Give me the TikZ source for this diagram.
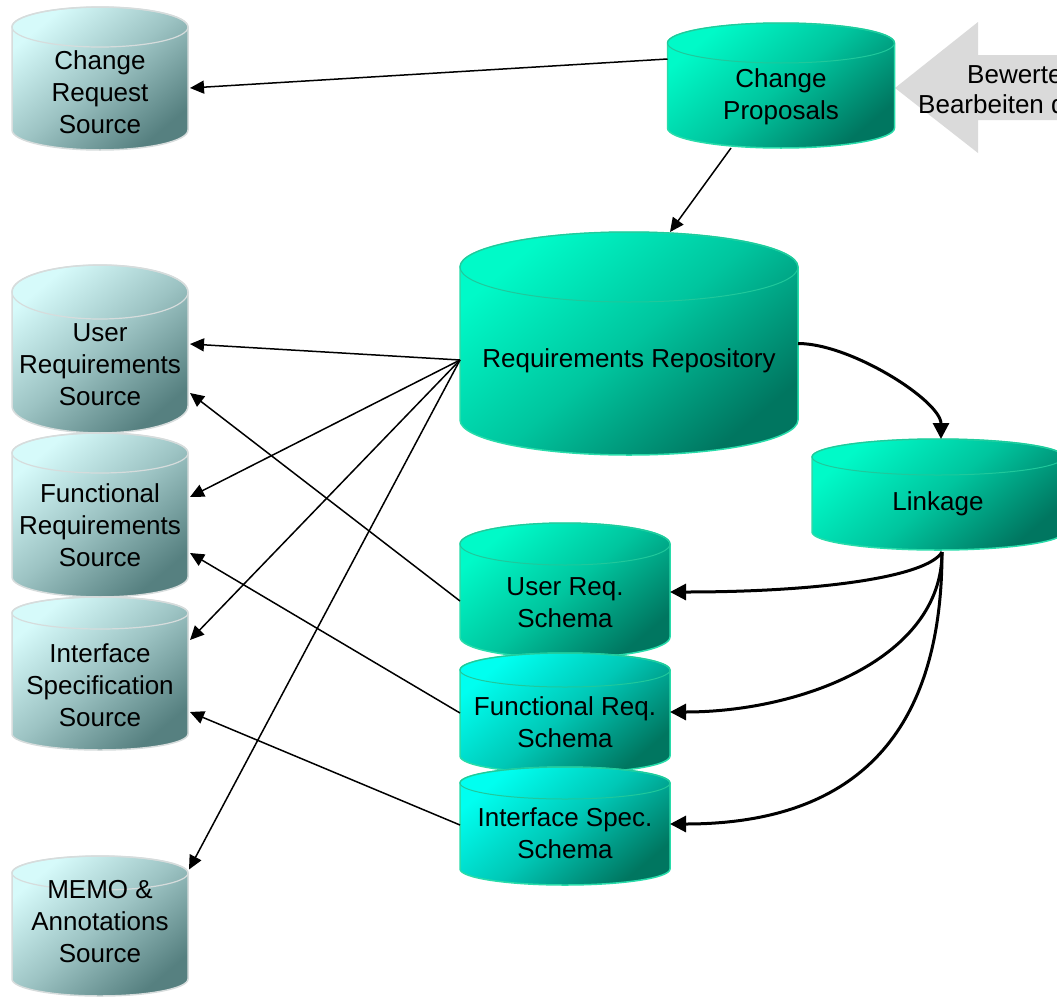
\documentclass[tikz,border=0pt]{standalone}
\usepackage{fontspec}
\setmainfont{Liberation Sans}
\usetikzlibrary{arrows.meta,calc}

% Cylinder drawn from its outline: #1 name, #2 centre x, #3 top y (downwards),
% #4 width, #5 height, #6 ellipse y radius, #7 colour kind, #8 text, #9 text y
\newcommand\dbcyl[9]{%
  \pgfmathsetmacro\cylrx{#4/2}%
  \pgfmathsetmacro\cylyt{-(#3+#6)}%
  \pgfmathsetmacro\cylyb{-(#3+#5-#6)}%
  \pgfmathsetmacro\cylxl{#2-#4/2}%
  \pgfmathsetmacro\cylxr{#2+#4/2}%
  \path[#7 body] (\cylxl,\cylyt) -- (\cylxl,\cylyb)
    arc[start angle=180,end angle=360,x radius=\cylrx,y radius=#6]
    -- (\cylxr,\cylyt)
    arc[start angle=0,end angle=180,x radius=\cylrx,y radius=#6] -- cycle;
  \draw[#7 rim] (#2,\cylyt) ellipse[x radius=\cylrx,y radius=#6];
  \node[cylbox,minimum width=#4pt,minimum height=#5pt] (#1) at (#2,{-(#3+#5/2)}) {};
  \node[cyltext] (#1-text) at (#2,-#9) {#8};
}

\definecolor{srclight}{RGB}{214,250,250}
\definecolor{srcdark}{RGB}{86,128,128}
\definecolor{srcedge}{RGB}{214,220,220}
\definecolor{teallight}{RGB}{0,250,200}
\definecolor{tealdark}{RGB}{0,118,96}
\definecolor{tealedge}{RGB}{40,220,170}
\definecolor{cyanlight}{RGB}{0,255,240}
\definecolor{arrowgrey}{RGB}{218,218,218}

\tikzset{
  src body/.style={draw=srcedge,line width=1.5pt,
    top color=srclight,bottom color=srcdark,middle color=srclight!55!srcdark,shading angle=40},
  src rim/.style={draw=srcedge,line width=1.2pt},
  teal body/.style={draw=tealedge,line width=1.5pt,
    top color=teallight,bottom color=tealdark,middle color=teallight!60!tealdark,shading angle=40},
  teal rim/.style={draw=tealedge!80!tealdark,line width=1pt},
  cyan body/.style={draw=tealedge,line width=1.5pt,
    top color=cyanlight,bottom color=tealdark,middle color=cyanlight!60!tealdark,shading angle=40},
  cyan rim/.style={draw=tealedge!80!tealdark,line width=1pt},
  cylbox/.style={inner sep=0pt,outer sep=0pt},
  cyltext/.style={align=center,inner sep=0pt,font=\fontsize{26}{32}\selectfont},
  link/.style={line width=1.5pt,-{Triangle[length=14pt,width=13pt]}},
  thicklink/.style={line width=3pt,-{Triangle[length=16pt,width=16pt]}},
  notetext/.style={anchor=west,inner sep=0pt,font=\fontsize{26}{32}\selectfont}
}

\begin{document}
\begin{tikzpicture}[x=1pt,y=1pt]
\useasboundingbox (0,0) rectangle (1057,-996);

% grey block arrow on the right edge
\fill[arrowgrey] (895,-88) -- (978,-22) -- (978,-55) -- (1070,-55) -- (1070,-120)
  -- (978,-120) -- (978,-153) -- cycle;
\node[notetext] (bewerten) at (967,-75) {Bewerten};
\node[notetext] (bearbeiten) at (918,-104) {Bearbeiten der};

% source databases on the left
\dbcyl{crs}{100}{7}{176}{143}{20}{src}{Change\\Request\\Source}{92}
\dbcyl{urs}{100}{265}{176}{168}{27}{src}{User\\Requirements\\Source}{365}
\dbcyl{frs}{100}{433}{176}{164}{20}{src}{Functional\\Requirements\\Source}{525}
\dbcyl{irs}{100}{597}{176}{153}{16}{src}{Interface\\Specification\\Source}{685}
\dbcyl{memo}{100}{856}{176}{140}{17}{src}{MEMO \&\\Annotations\\Source}{922}

% repository databases
\dbcyl{cp}{781}{23}{227}{125}{20}{teal}{Change\\Proposals}{97}
\dbcyl{rep}{629}{232}{338}{223}{35}{teal}{Requirements Repository}{361}
\dbcyl{lnk}{938}{439}{252}{111}{18}{teal}{Linkage}{504}
\dbcyl{urq}{565}{523}{210}{135}{21}{teal}{User Req.\\Schema}{603}
\dbcyl{frq}{565}{653}{210}{120}{17}{cyan}{Functional Req.\\Schema}{722}
\dbcyl{isq}{565}{767}{210}{118}{16}{cyan}{Interface Spec.\\Schema}{833}

% thin connectors
\draw[link] ([yshift=26.5pt]cp.west) -- ([xshift=2pt,yshift=-9.5pt]crs.east);
\draw[link] ([xshift=-50pt]cp.south) -- ([xshift=41pt]rep.north);

\draw[link] ([yshift=-16.5pt]rep.west) -- ([xshift=2pt,yshift=5pt]urs.east);
\draw[link] ([yshift=-16.5pt]rep.west) -- ([xshift=2pt,yshift=18pt]frs.east);
\draw[link] ([yshift=-16.5pt]rep.west) -- ([xshift=2pt,yshift=33.5pt]irs.east);
\draw[link] ([yshift=-16.5pt]rep.west) -- ([xshift=1pt,yshift=56.5pt]memo.east);

\draw[link] ([yshift=-10.5pt]urq.west) -- ([xshift=2pt,yshift=-44pt]urs.east);
\draw[link] (frq.west) -- ([xshift=2pt,yshift=-38pt]frs.east);
\draw[link] ([yshift=1pt]isq.west) -- ([xshift=2pt,yshift=-38.5pt]irs.east);

% thick curved connectors
\draw[thicklink] (rep.east) .. controls +(53,0) and +(0,38) .. ([xshift=3pt]lnk.north);
\draw[thicklink] ([xshift=4pt,yshift=-2pt]lnk.south) .. controls +(-15,-25) and +(150,0) .. ([yshift=-1.5pt]urq.east);
\draw[thicklink] ([xshift=4pt,yshift=-2pt]lnk.south) .. controls +(0,-107) and +(130,0) .. ([yshift=1pt]frq.east);
\draw[thicklink] ([xshift=4pt,yshift=-2pt]lnk.south) .. controls +(0,-177) and +(190,0) .. ([yshift=2pt]isq.east);
\end{tikzpicture}
\end{document}
